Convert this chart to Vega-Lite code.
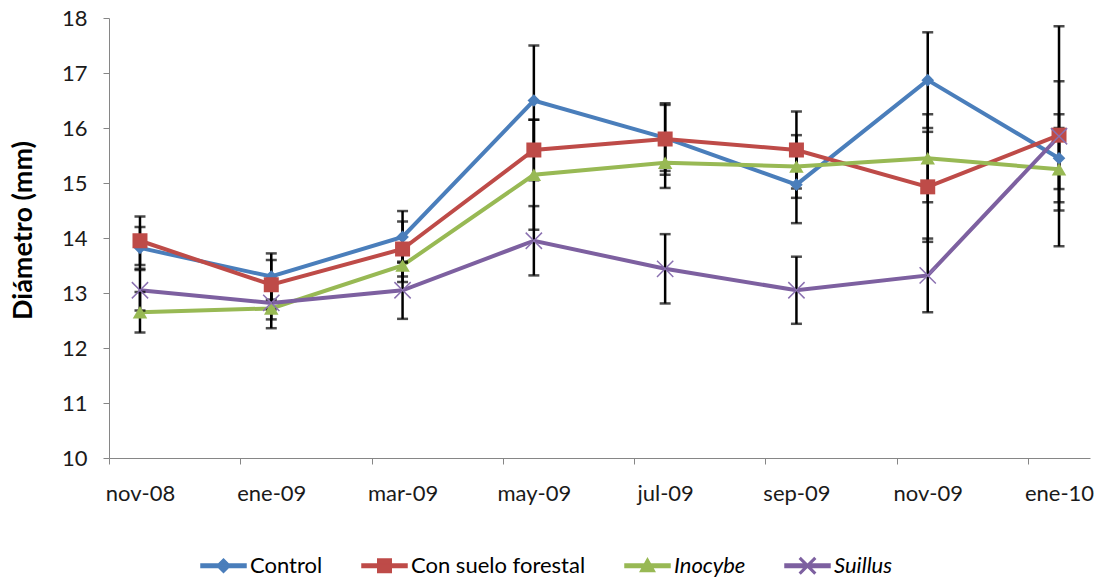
{
  "$schema": "https://vega.github.io/schema/vega-lite/v6.json",
  "width": 981,
  "height": 440,
  "autosize": {"type": "none"},
  "padding": {"left": 109, "top": 18, "right": 21, "bottom": 123},
  "background": "white",
  "config": {
    "view": {"stroke": null},
    "font": "Lato"
  },
  "data": {
    "values": [
      {"mes": "nov-08", "serie": "Control", "v": 13.82, "e": 0.38},
      {"mes": "ene-09", "serie": "Control", "v": 13.3, "e": 0.42},
      {"mes": "mar-09", "serie": "Control", "v": 14.02, "e": 0.47},
      {"mes": "may-09", "serie": "Control", "v": 16.5, "e": 1.0},
      {"mes": "jul-09", "serie": "Control", "v": 15.82, "e": 0.6},
      {"mes": "sep-09", "serie": "Control", "v": 14.97, "e": 0.7},
      {"mes": "nov-09", "serie": "Control", "v": 16.87, "e": 0.87},
      {"mes": "ene-10", "serie": "Control", "v": 15.45, "e": 0.8},
      {"mes": "nov-08", "serie": "Con suelo forestal", "v": 13.95, "e": 0.44},
      {"mes": "ene-09", "serie": "Con suelo forestal", "v": 13.15, "e": 0.45},
      {"mes": "mar-09", "serie": "Con suelo forestal", "v": 13.8, "e": 0.5},
      {"mes": "may-09", "serie": "Con suelo forestal", "v": 15.6, "e": 0.55},
      {"mes": "jul-09", "serie": "Con suelo forestal", "v": 15.8, "e": 0.65},
      {"mes": "sep-09", "serie": "Con suelo forestal", "v": 15.6, "e": 0.7},
      {"mes": "nov-09", "serie": "Con suelo forestal", "v": 14.93, "e": 1.0},
      {"mes": "ene-10", "serie": "Con suelo forestal", "v": 15.87, "e": 0.98},
      {"mes": "nov-08", "serie": "Inocybe", "v": 12.65, "e": 0.37},
      {"mes": "ene-09", "serie": "Inocybe", "v": 12.72, "e": 0.36},
      {"mes": "mar-09", "serie": "Inocybe", "v": 13.5, "e": 0.3},
      {"mes": "may-09", "serie": "Inocybe", "v": 15.15, "e": 1.0},
      {"mes": "jul-09", "serie": "Inocybe", "v": 15.37, "e": 0.46},
      {"mes": "sep-09", "serie": "Inocybe", "v": 15.3, "e": 0.57},
      {"mes": "nov-09", "serie": "Inocybe", "v": 15.45, "e": 0.8},
      {"mes": "ene-10", "serie": "Inocybe", "v": 15.25, "e": 0.75},
      {"mes": "nov-08", "serie": "Suillus", "v": 13.05, "e": 0.37},
      {"mes": "ene-09", "serie": "Suillus", "v": 12.82, "e": 0.3},
      {"mes": "mar-09", "serie": "Suillus", "v": 13.05, "e": 0.52},
      {"mes": "may-09", "serie": "Suillus", "v": 13.95, "e": 0.63},
      {"mes": "jul-09", "serie": "Suillus", "v": 13.44, "e": 0.63},
      {"mes": "sep-09", "serie": "Suillus", "v": 13.05, "e": 0.61},
      {"mes": "nov-09", "serie": "Suillus", "v": 13.32, "e": 0.67},
      {"mes": "ene-10", "serie": "Suillus", "v": 15.85, "e": 2.0}
    ]
  },
  "encoding": {
    "x": {
      "field": "mes",
      "type": "ordinal",
      "sort": ["nov-08", "ene-09", "mar-09", "may-09", "jul-09", "sep-09", "nov-09", "ene-10"],
      "scale": {"type": "point", "padding": 0.236},
      "axis": {
        "title": null,
        "labelAngle": 0,
        "labelFont": "Lato",
        "labelFontSize": 22,
        "labelColor": "#1a1a1a",
        "labelPadding": 19,
        "tickSize": 6,
        "tickColor": "#868686",
        "domainColor": "#868686",
        "tickOffset": -31,
        "labelOffset": 31,
        "grid": false
      }
    },
    "y": {
      "field": "v",
      "type": "quantitative",
      "scale": {"domain": [10, 18], "nice": false, "zero": false},
      "axis": {
        "title": "Diámetro (mm)",
        "titleFont": "Lato",
        "titleFontSize": 27,
        "titleFontWeight": "bold",
        "titleColor": "#000000",
        "titleX": -86,
        "titleY": 212,
        "titleAngle": 270,
        "titleAlign": "center",
        "titleBaseline": "middle",
        "values": [10, 11, 12, 13, 14, 15, 16, 17, 18],
        "labelFont": "Lato",
        "labelFontSize": 22,
        "labelColor": "#1a1a1a",
        "labelPadding": 16,
        "tickSize": 6,
        "tickColor": "#868686",
        "domainColor": "#868686",
        "grid": false
      }
    }
  },
  "layer": [
    {
      "mark": {"type": "line", "strokeWidth": 4},
      "encoding": {
        "color": {
          "field": "serie",
          "type": "nominal",
          "sort": ["Control", "Con suelo forestal", "Inocybe", "Suillus"],
          "scale": {
            "domain": ["Control", "Con suelo forestal", "Inocybe", "Suillus"],
            "range": ["#4A7EBB", "#BE4B48", "#98B954", "#7D60A0"]
          },
          "legend": {
            "title": null,
            "orient": "none",
            "legendX": 91,
            "legendY": 524,
            "direction": "horizontal",
            "padding": 0,
            "labelFont": "Lato",
            "labelFontSize": 22,
            "labelColor": "#000000",
            "labelLimit": 0,
            "labelOffset": 3,
            "columnPadding": 36,
            "symbolSize": 2025,
            "encoding": {
              "symbols": {
                "shape": {
                  "condition": [
                    {"test": "datum.value === 'Control'", "value": "M-1,-0.08H1V0.08H-1Z M0,-0.3L0.3,0L0,0.3L-0.3,0Z"},
                    {"test": "datum.value === 'Con suelo forestal'", "value": "M-1,-0.08H1V0.08H-1Z M-0.3,-0.3H0.3V0.3H-0.3Z"},
                    {"test": "datum.value === 'Inocybe'", "value": "M-1,-0.08H1V0.08H-1Z M0,-0.32L0.32,0.26H-0.32Z"}
                  ],
                  "value": "M-1,-0.08H1V0.08H-1Z M-0.35,-0.3L-0.3,-0.35L0,-0.05L0.3,-0.35L0.35,-0.3L0.05,0L0.35,0.3L0.3,0.35L0,0.05L-0.3,0.35L-0.35,0.3L-0.05,0Z"
                },
                "fill": {
                  "condition": [
                    {"test": "datum.value === 'Control'", "value": "#4A7EBB"},
                    {"test": "datum.value === 'Con suelo forestal'", "value": "#BE4B48"},
                    {"test": "datum.value === 'Inocybe'", "value": "#98B954"}
                  ],
                  "value": "#7D60A0"
                },
                "size": {"value": 2025},
                "stroke": {"value": "transparent"},
                "fillOpacity": {"value": 1}
              },
              "labels": {
                "fontStyle": {
                  "condition": {"test": "datum.value === 'Inocybe' || datum.value === 'Suillus'", "value": "italic"},
                  "value": "normal"
                }
              }
            }
          }
        }
      }
    },
    {
      "mark": {
        "type": "errorbar",
        "color": "black",
        "ticks": {"size": 11, "thickness": 2.5, "color": "black"},
        "rule": {"strokeWidth": 2.5, "color": "black"}
      },
      "encoding": {
        "y": {"field": "v", "type": "quantitative", "title": "Diámetro (mm)"},
        "yError": {"field": "e"},
        "detail": {"field": "serie", "type": "nominal"}
      }
    },
    {
      "transform": [{"filter": "datum.serie === 'Control'"}],
      "mark": {"type": "point", "filled": true, "opacity": 1, "shape": "diamond", "size": 160, "color": "#4A7EBB"}
    },
    {
      "transform": [{"filter": "datum.serie === 'Con suelo forestal'"}],
      "mark": {"type": "point", "filled": true, "opacity": 1, "shape": "square", "size": 225, "color": "#BE4B48"}
    },
    {
      "transform": [{"filter": "datum.serie === 'Inocybe'"}],
      "mark": {"type": "point", "filled": true, "opacity": 1, "shape": "triangle-up", "size": 210, "color": "#98B954"}
    },
    {
      "transform": [{"filter": "datum.serie === 'Suillus'"}],
      "mark": {"type": "point", "filled": true, "opacity": 1, "size": 300, "color": "#8A70B0", "shape": "M-1,-0.88L-0.88,-1L0,-0.12L0.88,-1L1,-0.88L0.12,0L1,0.88L0.88,1L0,0.12L-0.88,1L-1,0.88L-0.12,0Z"}
    }
  ]
}
